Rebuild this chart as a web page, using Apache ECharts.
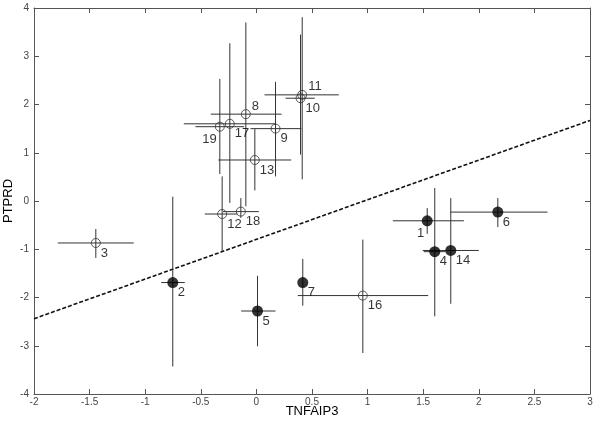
<!DOCTYPE html>
<html>
<head>
<meta charset="utf-8">
<script src="https://cdn.jsdelivr.net/npm/echarts@6/dist/echarts.min.js"></script>
<style>html,body{margin:0;padding:0;background:#fff}#c{width:600px;height:426px}</style>
</head>
<body>
<div id="c"></div>
<script>
var ids    = ['1','2','3','4','5','6','7','8','9','10','11','12','13','14','16','17','18','19'];
var xVals  = [1.536,-0.752,-1.444,1.604,0.010,2.171,0.417,-0.095,0.172,0.397,0.412,-0.308,-0.014,1.748,0.957,-0.239,-0.140,-0.329];
var yVals  = [-0.41,-1.69,-0.87,-1.05,-2.28,-0.23,-1.69,1.80,1.50,2.13,2.20,-0.27,0.85,-1.025,-1.96,1.60,-0.22,1.54];
var xLow   = [1.227,-0.856,-1.786,1.505,-0.137,1.745,0.417,-0.410,-0.053,0.262,0.073,-0.464,-0.343,1.496,0.372,-0.653,-0.300,-0.548];
var xHigh  = [1.866,-0.644,-1.103,1.700,0.172,2.618,0.417,0.226,0.405,0.525,0.741,-0.170,0.313,2.000,1.545,0.172,0.022,-0.110];
var yLow   = [-0.68,-3.43,-1.18,-2.39,-3.01,-0.54,-2.17,-0.11,0.51,0.96,0.45,-1.05,0.22,-2.13,-3.15,-0.04,-0.35,0.56];
var yHigh  = [-0.147,0.09,-0.58,0.27,-1.55,0.06,-1.20,3.70,2.47,3.45,3.81,0.51,1.49,0.06,-0.80,3.27,0.06,2.53];
var filled = [1,1,0,1,1,1,1,0,0,0,0,0,0,1,0,0,0,0];
var labelSide = ['bl','br','br','br','br','br','br','tr','br','br','tr','br','br','br','br','br','br','bl'];
var fitX = [-2, 3];
var fitY = [-2.44, 1.67];
var xTicks = [-2,-1.5,-1,-0.5,0,0.5,1,1.5,2,2.5,3];
var yTicks = [-4,-3,-2,-1,0,1,2,3,4];

var labelStyles = {
  br: {align:'left', offset:[5,10]},
  bl: {align:'right', offset:[-3,13]},
  tr: {align:'left', offset:[6,-8]}
};

function pointItems(flag){
  var out = [];
  for (var i=0;i<ids.length;i++){
    if (filled[i]!==flag) continue;
    var ls = labelStyles[labelSide[i]];
    out.push({
      value:[xVals[i], yVals[i]],
      name: ids[i],
      label:{show:true, position:'inside', formatter: ids[i], align: ls.align, verticalAlign:'middle',
             offset: ls.offset, color:'#000', fontSize:13, fontFamily:'Liberation Sans, Arial, sans-serif'}
    });
  }
  return out;
}

var errData = [];
for (var i=0;i<ids.length;i++){
  errData.push([xVals[i], yVals[i], xLow[i], xHigh[i], yLow[i], yHigh[i]]);
}

var fitData = fitX.map(function(x,i){return [x, fitY[i]];});

function axisCommon(){
  return {
    axisLine:{show:true, onZero:false, lineStyle:{color:'#555', width:1}},
    axisTick:{show:true, inside:true, length:5, lineStyle:{color:'#555'}},
    splitLine:{show:false}
  };
}

var chart = echarts.init(document.getElementById('c'), null, {renderer:'canvas'});
chart.setOption({
  animation:false,
  backgroundColor:'#fff',
  grid:{left:34, right:10, top:8, bottom:32, containLabel:false, outerBoundsMode:'none'},
  xAxis:[
    Object.assign({type:'value', min:xTicks[0], max:xTicks[xTicks.length-1], interval:0.5, position:'bottom',
      name:'TNFAIP3', nameLocation:'middle', nameGap:11, nameMoveOverlap:false,
      nameTextStyle:{color:'#000', fontSize:13, fontFamily:'Liberation Sans, Arial, sans-serif'},
      axisLabel:{color:'#444', fontSize:10, margin:3, fontFamily:'Liberation Sans, Arial, sans-serif',
        formatter:function(v){return String(v);}}}, axisCommon()),
    Object.assign({type:'value', min:xTicks[0], max:xTicks[xTicks.length-1], interval:0.5, position:'top',
      axisLabel:{show:false}}, axisCommon())
  ],
  yAxis:[
    Object.assign({type:'value', min:yTicks[0], max:yTicks[yTicks.length-1], interval:1, position:'left',
      name:'PTPRD', nameLocation:'middle', nameGap:19, nameRotate:90, nameMoveOverlap:false,
      nameTextStyle:{color:'#000', fontSize:13, fontFamily:'Liberation Sans, Arial, sans-serif'},
      axisLabel:{color:'#444', fontSize:10, margin:5, fontFamily:'Liberation Sans, Arial, sans-serif'}}, axisCommon()),
    Object.assign({type:'value', min:yTicks[0], max:yTicks[yTicks.length-1], interval:1, position:'right',
      axisLabel:{show:false}}, axisCommon())
  ],
  series:[
    {
      type:'line', data:fitData, symbol:'none', silent:true, z:2,
      lineStyle:{color:'#111', width:1.6, type:[4,2]}
    },
    {
      type:'custom', z:3, silent:true,
      data: errData,
      encode:{x:[0,2,3], y:[1,4,5]},
      renderItem:function(params, api){
        var h1 = api.coord([api.value(2), api.value(1)]);
        var h2 = api.coord([api.value(3), api.value(1)]);
        var v1 = api.coord([api.value(0), api.value(4)]);
        var v2 = api.coord([api.value(0), api.value(5)]);
        var st = {stroke:'#333', lineWidth:1};
        return {type:'group', children:[
          {type:'line', shape:{x1:h1[0], y1:h1[1], x2:h2[0], y2:h2[1]}, style:st},
          {type:'line', shape:{x1:v1[0], y1:v1[1], x2:v2[0], y2:v2[1]}, style:st}
        ]};
      }
    },
    {
      type:'scatter', z:4, data: pointItems(0), symbol:'circle', symbolSize:9,
      itemStyle:{color:'rgba(0,0,0,0)', borderColor:'#333', borderWidth:1}
    },
    {
      type:'scatter', z:5, data: pointItems(1), symbol:'circle', symbolSize:11,
      itemStyle:{color:'#000', borderColor:'#000', borderWidth:0}
    }
  ]
});
</script>
</body>
</html>
